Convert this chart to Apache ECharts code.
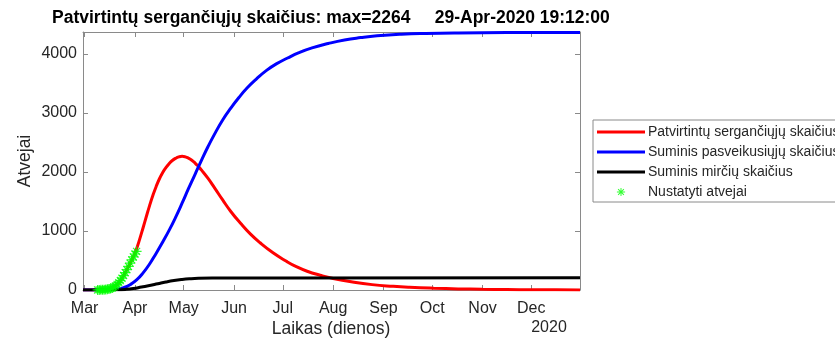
<!DOCTYPE html>
<html>
<head>
<meta charset="utf-8">
<script src="https://cdn.jsdelivr.net/npm/echarts@6/dist/echarts.min.js"></script>
<style>
  html, body { margin: 0; padding: 0; background: #fff; }
  #chart { width: 835px; height: 338px; }
</style>
</head>
<body>
<div id="chart"></div>
<script>
// Days counted from 1 March 2020 (day 0)
const monthTickDays = [0, 31, 61, 92, 122, 153, 184, 214, 245, 275];
const monthTickLabels = ['Mar', 'Apr', 'May', 'Jun', 'Jul', 'Aug', 'Sep', 'Oct', 'Nov', 'Dec'];
const valueTicks = [0, 1000, 2000, 3000, 4000];

// Active (confirmed, not yet recovered) cases
const activeDays = [-1, 5, 10, 14, 18, 22, 26, 28, 30, 32, 34, 36, 38, 40, 42, 44, 46, 48, 50, 52, 54, 56, 58, 60, 62, 64, 66, 68, 70, 72, 76, 80, 85, 90, 96, 102, 108, 116, 124, 130, 137, 145, 153, 165, 177, 190, 200, 215, 230, 245, 260, 275, 290, 305];
const activeCases = [0, 1, 4, 12, 50, 160, 345, 450, 565, 700, 870, 1055, 1245, 1430, 1600, 1750, 1880, 1985, 2070, 2140, 2193, 2230, 2254, 2264, 2255, 2232, 2198, 2150, 2092, 2030, 1890, 1730, 1525, 1330, 1130, 950, 800, 630, 490, 400, 318, 250, 195, 135, 91, 62, 46, 30, 19, 12, 8, 5, 3, 2];

// Cumulative recovered
const recoveredDays = [-1, 10, 16, 20, 24, 28, 32, 36, 40, 44, 48, 52, 56, 60, 64, 68, 72, 76, 80, 85, 90, 95, 100, 106, 112, 118, 125, 132, 140, 150, 160, 170, 180, 195, 210, 230, 260, 305];
const recoveredCases = [0, 1, 5, 15, 40, 90, 170, 290, 440, 620, 810, 1010, 1230, 1470, 1720, 1960, 2200, 2430, 2640, 2880, 3080, 3260, 3420, 3580, 3720, 3830, 3930, 4020, 4100, 4175, 4235, 4275, 4305, 4332, 4346, 4355, 4360, 4362];

// Cumulative deaths
const deathDays = [-1, 10, 20, 25, 30, 35, 40, 45, 50, 55, 60, 65, 70, 80, 95, 120, 305];
const deaths = [0, 0, 3, 10, 25, 50, 75, 105, 135, 160, 178, 190, 197, 202, 204, 205, 206];

// Reported cases
const caseDays = [8, 9, 10, 11, 12, 13, 14, 15, 16, 17, 18, 19, 20, 21, 22, 23, 24, 25, 26, 27, 28, 29, 30, 31, 32];
const confirmedCases = [1, 2, 3, 4, 6, 9, 13, 18, 25, 35, 50, 70, 95, 125, 160, 200, 245, 295, 345, 400, 455, 510, 560, 610, 655];

const seriesNames = [
  'Patvirtintų sergančiųjų skaičius',
  'Suminis pasveikusiųjų skaičius',
  'Suminis mirčių skaičius',
  'Nustatyti atvejai'
];

const zip = (xs, ys) => xs.map((x, i) => [x, ys[i]]);

// eight-armed asterisk marker
const asteriskArms = 'M-1.2,-10 L1.2,-10 L1.2,10 L-1.2,10 Z M-10,-1.2 L10,-1.2 L10,1.2 L-10,1.2 Z ' +
  'M-6.2,-7.9 L7.9,6.2 L6.2,7.9 L-7.9,-6.2 Z M-7.9,6.2 L6.2,-7.9 L7.9,-6.2 L-6.2,7.9 Z';
const asterisk = 'path://' + asteriskArms;
// same marker with empty margin, so it stays small inside the legend row
const asteriskLegend = 'path://' + asteriskArms + ' M-17,-17 L-16.9,-17 Z M17,17 L16.9,17 Z';
const lineIcon = 'path://M0,0 L48,0 L48,3 L0,3 Z';

const axisGrey = '#8a8a8a';
const labelColor = '#262626';
const font = 'Liberation Sans, Arial, Helvetica, sans-serif';
const xMin = -1, xMax = 305, yMin = 0, yMax = 4370;

const chart = echarts.init(document.getElementById('chart'), null, { renderer: 'canvas' });

chart.setOption({
  animation: false,
  backgroundColor: '#ffffff',
  textStyle: { fontFamily: font },
  title: {
    text: 'Patvirtintų sergančiųjų skaičius: max=2264     29-Apr-2020 19:12:00',
    left: 52,
    top: 9,
    padding: 0,
    textStyle: { fontSize: 17.5, fontWeight: 'bold', color: '#000', fontFamily: font }
  },
  grid: { left: 83, right: 255, top: 32, bottom: 48, containLabel: false, outerBoundsMode: 'none' },
  legend: {
    orient: 'vertical',
    left: 593,
    top: 120,
    padding: [5, 6, 3, 4],
    itemGap: 6,
    itemWidth: 48,
    itemHeight: 14,
    borderColor: '#8a8a8a',
    borderWidth: 1,
    backgroundColor: '#fff',
    textStyle: { fontSize: 14, color: labelColor, fontFamily: font, padding: [0, 0, 0, -2] },
    data: [
      { name: seriesNames[0], icon: lineIcon },
      { name: seriesNames[1], icon: lineIcon },
      { name: seriesNames[2], icon: lineIcon },
      { name: seriesNames[3], icon: asteriskLegend, itemStyle: { color: '#00ff00' } }
    ]
  },
  xAxis: [
    {
      type: 'value', min: xMin, max: xMax, position: 'bottom',
      axisLine: { show: true, onZero: false, lineStyle: { color: axisGrey, width: 1 } },
      axisTick: { show: true, inside: true, length: 5, customValues: monthTickDays, lineStyle: { color: axisGrey } },
      axisLabel: {
        show: true, customValues: monthTickDays, margin: 11,
        fontSize: 16, color: labelColor, fontFamily: font,
        formatter: v => monthTickLabels[monthTickDays.indexOf(v)] || ''
      },
      splitLine: { show: false }
    },
    {
      type: 'value', min: xMin, max: xMax, position: 'top',
      axisLine: { show: true, onZero: false, lineStyle: { color: axisGrey, width: 1 } },
      axisTick: { show: true, inside: true, length: 5, customValues: monthTickDays, lineStyle: { color: axisGrey } },
      axisLabel: { show: false },
      splitLine: { show: false }
    }
  ],
  yAxis: [
    {
      type: 'value', min: yMin, max: yMax, position: 'left',
      axisLine: { show: true, onZero: false, lineStyle: { color: axisGrey, width: 1 } },
      axisTick: { show: true, inside: true, length: 5, customValues: valueTicks, lineStyle: { color: axisGrey } },
      axisLabel: {
        show: true, customValues: valueTicks, margin: 6, fontSize: 16, color: labelColor, fontFamily: font,
        formatter: v => String(v)
      },
      splitLine: { show: false }
    },
    {
      type: 'value', min: yMin, max: yMax, position: 'right',
      axisLine: { show: true, onZero: false, lineStyle: { color: axisGrey, width: 1 } },
      axisTick: { show: true, inside: true, length: 5, customValues: valueTicks, lineStyle: { color: axisGrey } },
      axisLabel: { show: false },
      splitLine: { show: false }
    }
  ],
  graphic: [
    {
      type: 'text', x: 331, y: 329,
      style: {
        text: 'Laikas (dienos)', fontSize: 17.5, fill: labelColor, fontFamily: font,
        align: 'center', verticalAlign: 'middle'
      }
    },
    {
      type: 'text', x: 25.5, y: 161, rotation: Math.PI / 2,
      style: {
        text: 'Atvejai', fontSize: 17.5, fill: labelColor, fontFamily: font,
        align: 'center', verticalAlign: 'middle'
      }
    },
    {
      type: 'text', x: 549, y: 328,
      style: {
        text: '2020', fontSize: 16, fill: labelColor, fontFamily: font,
        align: 'center', verticalAlign: 'middle'
      }
    }
  ],
  series: [
    {
      name: seriesNames[0], type: 'line', xAxisIndex: 0, yAxisIndex: 0,
      data: zip(activeDays, activeCases), smooth: 0.5, showSymbol: false,
      lineStyle: { color: '#ff0000', width: 3 }, itemStyle: { color: '#ff0000' }, z: 2
    },
    {
      name: seriesNames[1], type: 'line', xAxisIndex: 0, yAxisIndex: 0,
      data: zip(recoveredDays, recoveredCases), smooth: 0.5, showSymbol: false,
      lineStyle: { color: '#0000ff', width: 3 }, itemStyle: { color: '#0000ff' }, z: 3
    },
    {
      name: seriesNames[2], type: 'line', xAxisIndex: 0, yAxisIndex: 0,
      data: zip(deathDays, deaths), smooth: 0.5, showSymbol: false,
      lineStyle: { color: '#000000', width: 3 }, itemStyle: { color: '#000000' }, z: 4
    },
    {
      name: seriesNames[3], type: 'scatter', xAxisIndex: 0, yAxisIndex: 0,
      data: zip(caseDays, confirmedCases), symbol: asterisk, symbolSize: 10,
      itemStyle: { color: '#00ff00' }, z: 5
    }
  ]
});
</script>
</body>
</html>
